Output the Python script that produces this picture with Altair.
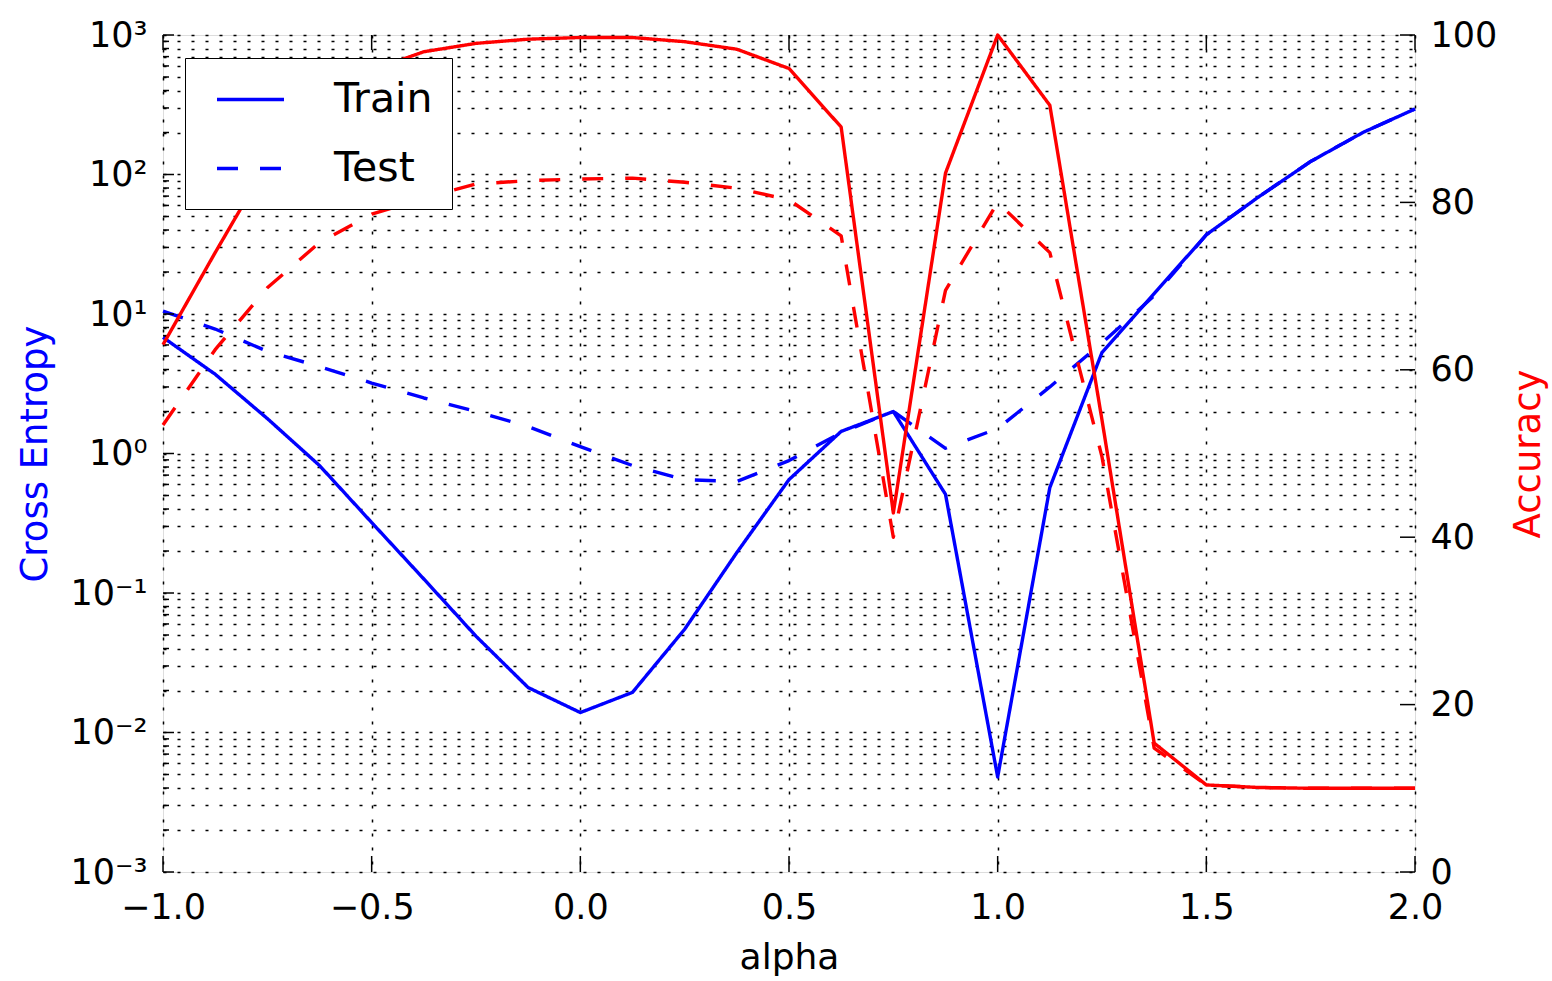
import altair as alt
import pandas as pd

# ---- data ----
alpha = [-1.0, -0.875, -0.75, -0.625, -0.5, -0.375, -0.25, -0.125, 0.0,
         0.125, 0.25, 0.375, 0.5, 0.625, 0.75, 0.875, 1.0, 1.125, 1.25,
         1.375, 1.5, 1.625, 1.75, 1.875, 2.0]

train_ce = [6.8, 3.7, 1.78, 0.82, 0.32, 0.126, 0.049, 0.021, 0.0139,
            0.0194, 0.055, 0.195, 0.65, 1.44, 2.0, 0.51, 0.0048, 0.57, 5.3,
            14.0, 37.0, 69.0, 124.0, 200.0, 295.0]
test_ce = [10.5, 7.8, 5.4, 4.2, 3.2, 2.5, 2.0, 1.56, 1.12,
           0.82, 0.65, 0.63, 0.89, 1.41, 2.0, 1.09, 1.51, 3.0, 6.2,
           13.5, 37.0, 69.0, 124.0, 200.0, 295.0]

train_acc = [63.0, 74.0, 84.7, 91.6, 95.8, 98.0, 99.0, 99.5, 99.7,
             99.7, 99.2, 98.3, 96.0, 89.0, 42.9, 83.5, 100.0, 91.6, 54.0,
             15.4, 10.4, 10.1, 10.0, 10.0, 10.0]
test_acc = [53.4, 62.4, 69.8, 75.2, 78.6, 80.5, 82.2, 82.6, 82.8,
            82.9, 82.4, 81.7, 80.3, 76.0, 40.0, 69.5, 80.0, 74.0, 49.6,
            14.8, 10.4, 10.1, 10.0, 10.0, 10.0]

series = ["Train", "Test"]

x_ticks = [-1.0, -0.5, 0.0, 0.5, 1.0, 1.5, 2.0]
ce_major = [0.001, 0.01, 0.1, 1.0, 10.0, 100.0, 1000.0]
ce_minor = [m * d for d in [0.001, 0.01, 0.1, 1.0, 10.0, 100.0] for m in range(2, 10)]
acc_ticks = [0, 20, 40, 60, 80, 100]
ce_labels = ["10\u207b\u00b3", "10\u207b\u00b2", "10\u207b\u00b9", "10\u2070",
             "10\u00b9", "10\u00b2", "10\u00b3"]

W, H = 1252, 837
BLUE = "#0000ff"
RED = "#ff0000"
FONT = "DejaVu Sans"
LW = 3.4

rows = []
for i, a in enumerate(alpha):
    rows.append({"alpha": a, "series": "Train", "ce": train_ce[i], "acc": train_acc[i]})
    rows.append({"alpha": a, "series": "Test", "ce": test_ce[i], "acc": test_acc[i]})
df = pd.DataFrame(rows)

# ---- scales / axes ----
x_scale = alt.Scale(domain=[-1, 2], nice=False, zero=False)
x_axis = alt.Axis(values=x_ticks, format=".1f", title="alpha", ticks=False, domain=False,
                  labelFlush=False,
                  grid=True, gridDash=[3, 11], gridColor="black", gridWidth=1.5, gridOpacity=1,
                  labelFontSize=35, labelPadding=46, labelBaseline="alphabetic",
                  labelColor="black", labelFont=FONT,
                  titleFontSize=36, titleFontWeight="normal", titleColor="black", titleFont=FONT,
                  titleY=96, titleBaseline="alphabetic", titleAlign="center", titleX=W / 2)

ce_scale = alt.Scale(type="log", domain=[0.001, 1000], nice=False)
lab_list = "[" + ",".join("'" + s + "'" for s in ce_labels) + "]"
ce_axis = alt.Axis(values=ce_major + ce_minor, ticks=False, domain=False, labelOverlap=False,
                   labelFlush=False,
                   labelExpr=("abs(log(datum.value)/LN10 - round(log(datum.value)/LN10)) < 0.001 ? "
                              + lab_list + "[round(log(datum.value)/LN10)+3] : ''"),
                   grid=True, gridDash=[3, 11], gridColor="black", gridWidth=1.5, gridOpacity=1,
                   labelFontSize=35, labelPadding=16, labelColor="black", labelFont=FONT,
                   title="Cross Entropy", titleColor=BLUE, titleFontSize=37, titleFontWeight="normal",
                   titleFont=FONT, titleAngle=270, titleX=-128, titleY=H / 2,
                   titleAlign="center", titleBaseline="middle")

acc_scale = alt.Scale(domain=[0, 100], nice=False, zero=False)
acc_axis = alt.Axis(orient="right", values=acc_ticks, ticks=False, domain=False, grid=False,
                    labelFlush=False,
                    labelFontSize=35, labelPadding=15, labelColor="black", labelFont=FONT,
                    title="Accuracy", titleColor=RED, titleFontSize=37, titleFontWeight="normal",
                    titleFont=FONT, titleAngle=270, titleX=113, titleY=H / 2,
                    titleAlign="center", titleBaseline="middle")

dash_scale = alt.Scale(domain=series, range=[[1, 0], [21, 22]])

X = alt.X("alpha:Q", scale=x_scale, axis=x_axis)

blue_lines = alt.Chart(df).mark_line(color=BLUE, strokeWidth=LW, strokeJoin="round").encode(
    x=X,
    y=alt.Y("ce:Q", scale=ce_scale, axis=ce_axis),
    strokeDash=alt.StrokeDash(
        "series:N", scale=dash_scale, sort=series,
        legend=alt.Legend(title=" ", titleOrient="bottom", titleFontSize=10, titlePadding=4,
                          orient="none", legendX=22, legendY=23,
                          symbolType="stroke", symbolSize=4489, symbolStrokeWidth=LW,
                          symbolStrokeColor=BLUE, labelFontSize=41, labelFont=FONT,
                          labelColor="black", labelOffset=48, symbolOffset=24, padding=6,
                          rowPadding=13, strokeColor="black", fillColor="white",
                          labelExpr="datum.label + '\u00a0\u200b'")),
)

red_lines = alt.Chart(df).mark_line(color=RED, strokeWidth=LW, strokeJoin="round").encode(
    x=X,
    y=alt.Y("acc:Q", scale=acc_scale, axis=acc_axis),
    strokeDash=alt.StrokeDash("series:N", scale=dash_scale, sort=series, legend=None),
)

xt = pd.DataFrame({"alpha": x_ticks})
x_ticks_bottom = alt.Chart(xt).mark_rule(color="black", strokeWidth=1.5).encode(
    x=X, y=alt.value(H), y2=alt.value(H - 16))
x_ticks_top = alt.Chart(xt).mark_rule(color="black", strokeWidth=1.5).encode(
    x=X, y=alt.value(0), y2=alt.value(15))

left_major = alt.Chart(pd.DataFrame({"ce": ce_major})).mark_rule(color="black", strokeWidth=1.5).encode(
    y=alt.Y("ce:Q", scale=ce_scale, axis=ce_axis), x=alt.value(0), x2=alt.value(11))
left_minor = alt.Chart(pd.DataFrame({"ce": ce_minor})).mark_rule(color="black", strokeWidth=1.5).encode(
    y=alt.Y("ce:Q", scale=ce_scale, axis=ce_axis), x=alt.value(0), x2=alt.value(6))

right_ticks = alt.Chart(pd.DataFrame({"acc": acc_ticks})).mark_rule(color="black", strokeWidth=1.5).encode(
    y=alt.Y("acc:Q", scale=acc_scale, axis=acc_axis), x=alt.value(W), x2=alt.value(W - 15))

left_group = alt.layer(blue_lines, x_ticks_bottom, x_ticks_top, left_major, left_minor)
right_group = alt.layer(red_lines, right_ticks)

chart = alt.layer(left_group, right_group).resolve_scale(
    y="independent", strokeDash="independent"
).resolve_legend(strokeDash="independent").properties(
    width=W, height=H,
    autosize=alt.AutoSizeParams(type="none"),
    padding={"left": 163, "top": 35, "right": 137, "bottom": 109},
    background="white",
).configure_view(stroke="black", strokeWidth=3).configure_legend(strokeWidth=2.5).configure(font=FONT)

chart.save("out.html", embed_options={"renderer": "svg", "actions": False})
